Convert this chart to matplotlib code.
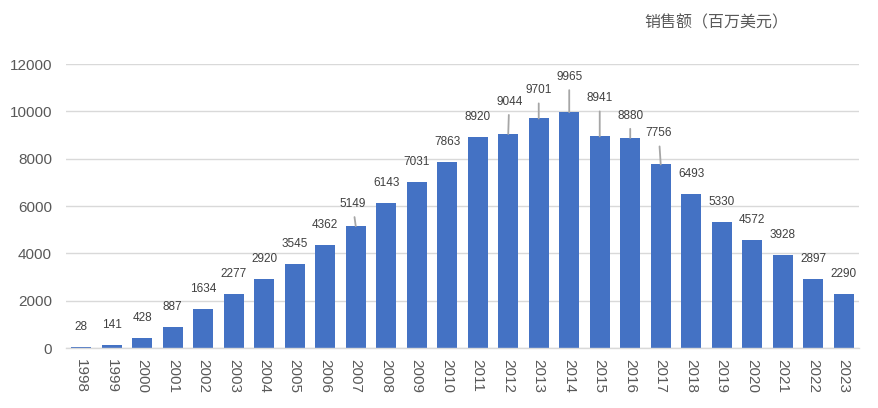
import matplotlib.pyplot as plt
import numpy as np

plt.rcParams['font.family'] = ['Liberation Sans', 'Noto Sans CJK SC', 'DejaVu Sans']

years = [str(y) for y in range(1998, 2024)]
sales = [28, 141, 428, 887, 1634, 2277, 2920, 3545, 4362, 5149, 6143, 7031, 7863,
         8920, 9044, 9701, 9965, 8941, 8880, 7756, 6493, 5330, 4572, 3928, 2897, 2290]
title = "销售额（百万美元）"

# label offsets in pixels (dx, dy) for the labels that were moved up with a leader line
moved = {"2007": (-3, 22), "2012": (1, 32), "2013": (0, 28), "2014": (0, 35),
         "2015": (0, 38), "2016": (0, 22), "2017": (-2, 31)}

fig = plt.figure(figsize=(8.79, 4.08), dpi=100)
ax = fig.add_axes([0.0751, 0.147, 0.9021, 0.696])

x = np.arange(len(years))
ax.bar(x, sales, width=0.66, color='#4472C4', zorder=2)

for i, (yr, v) in enumerate(zip(years, sales)):
    if yr in moved:
        dx, dy = moved[yr]
        ax.annotate(str(v), xy=(i, v), xytext=(dx, dy), textcoords='offset pixels',
                    ha='center', va='center', fontsize=8.5, color='#404040',
                    arrowprops=dict(arrowstyle='-', color='#A6A6A6', lw=1.3,
                                    shrinkA=3, shrinkB=0))
    else:
        ax.annotate(str(v), xy=(i, v), xytext=(0, 20), textcoords='offset pixels',
                    ha='center', va='center', fontsize=8.5, color='#404040')

ax.set_xlim(-0.5, len(years) - 0.5)
ax.set_ylim(0, 12000)
ax.set_yticks(range(0, 12001, 2000))
ax.set_xticks(x)
ax.set_xticklabels(years, rotation=270, fontsize=11, color='#595959')
ax.tick_params(axis='y', labelsize=11, labelcolor='#595959', length=0, pad=10)
ax.tick_params(axis='x', length=0, pad=8)
ax.grid(axis='y', color='#D9D9D9', lw=1, zorder=0)
for s in ['top', 'right', 'left']:
    ax.spines[s].set_visible(False)
ax.spines['bottom'].set_color('#D9D9D9')
ax.spines['bottom'].set_linewidth(1)

fig.text(0.815, 0.943, title, fontsize=11.5, color='#595959', ha='center', va='center',
         family=['Noto Sans CJK SC', 'DejaVu Sans'])

fig.savefig('out.png', dpi=100)
